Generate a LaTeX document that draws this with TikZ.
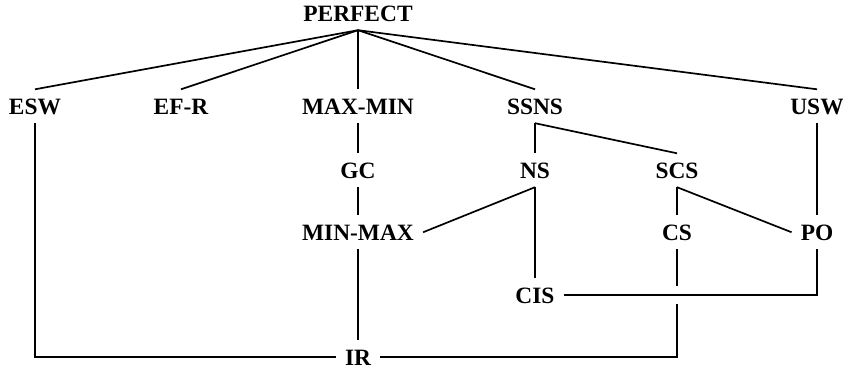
\documentclass[tikz,border=0pt]{standalone}
\usepackage{fontspec}
\setmainfont{Liberation Serif}
\usetikzlibrary{calc}
\begin{document}
\begin{tikzpicture}[x=1bp,y=1bp,
  lbl/.style={font=\fontsize{23.4bp}{28bp}\selectfont\bfseries,
    text height=15.5bp, text depth=0pt, inner sep=9bp, anchor=base},
  link/.style={line width=1.7bp, line cap=butt, line join=miter}]
\useasboundingbox (0,0) rectangle (843,373);

% property nodes
\node[lbl] (perfect) at (358,352) {PERFECT};
\node[lbl] (esw)     at (35,259)  {ESW};
\node[lbl] (efr)     at (181,259) {EF-R};
\node[lbl] (maxmin)  at (358,259) {MAX-MIN};
\node[lbl] (ssns)    at (535,259) {SSNS};
\node[lbl] (usw)     at (817,259) {USW};
\node[lbl] (gc)      at (358,195) {GC};
\node[lbl] (ns)      at (535,195) {NS};
\node[lbl] (scs)     at (677,195) {SCS};
\node[lbl] (minmax)  at (358,133) {MIN-MAX};
\node[lbl] (cs)      at (677,133) {CS};
\node[lbl] (po)      at (817,133) {PO};
\node[lbl] (cis)     at (535,70)  {CIS};
\node[lbl] (ir)      at (358,8)   {IR};

% top fan
\foreach \n in {esw,efr,maxmin,ssns,usw}
  \draw[link] (perfect.south) -- (\n.north);

\draw[link] (ssns.south) -- (ns.north);
\draw[link] (ssns.south) -- (scs.north);
\draw[link] (maxmin.south) -- (gc.north);
\draw[link] (gc.south) -- (minmax.north);
\draw[link] (ns.south) -- (minmax.east);
\draw[link] (ns.south) -- (cis.north);
\draw[link] (scs.south) -- (cs.north);
\draw[link] (scs.south) -- (po.west);
\draw[link] (usw.south) -- (po.north);
\draw[link] (minmax.south) -- (ir.north);
\draw[link] (esw.south) |- (ir.west);
\draw[link] (cis.east) -| (po.south);

% CS to IR, broken where it crosses the CIS--PO line
\coordinate (jumpTop) at ($(cs.south |- cis.east)+(0,9)$);
\coordinate (jumpBot) at ($(cs.south |- cis.east)+(0,-9)$);
\draw[link] (cs.south) -- (jumpTop);
\draw[link] (jumpBot) |- (ir.east);
\end{tikzpicture}
\end{document}
